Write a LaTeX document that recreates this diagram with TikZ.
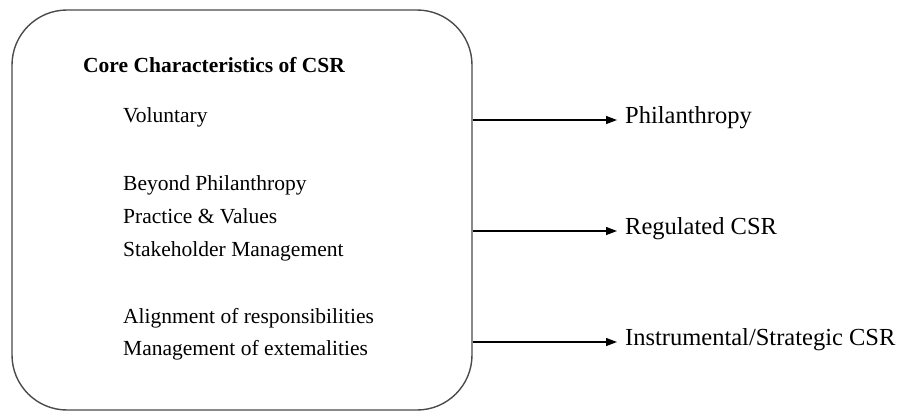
\documentclass[tikz,border=0pt]{standalone}
\usepackage{fontspec}
\setmainfont{Liberation Serif}
\usetikzlibrary{positioning, arrows.meta}
\definecolor{FrameGray}{HTML}{4A4A4A}

\begin{document}
\begin{tikzpicture}[x=1pt, y=-1pt,
    item/.style={anchor=base west, inner sep=0pt, font=\fontsize{21.5}{24}\selectfont},
    outcome/.style={anchor=west, inner sep=0pt, text height=0.72em, text depth=0.05em,
                    font=\fontsize{24.5}{28}\selectfont},
    link/.style={-{Triangle[length=11pt, width=8pt]}, line width=1.3pt, black, shorten >=8pt}]
    \useasboundingbox (0, 0) rectangle (903, 413);

    % Frame
    \node[draw=FrameGray, line width=1.4pt, rounded corners=55pt,
          minimum width=460pt, minimum height=400pt] (core) at (242, 210) {};

    % Characteristics
    \node[item, font=\fontsize{21.5}{24}\selectfont\bfseries] (title) at (83, 72) {Core Characteristics of CSR};
    \node[item] (vol) at (123, 122) {Voluntary};
    \node[item] (beyond) at (123, 190) {Beyond Philanthropy};
    \node[item] (values) at (123, 223) {Practice \& Values};
    \node[item] (stake) at (123, 256) {Stakeholder Management};
    \node[item] (align) at (123, 323) {Alignment of responsibilities};
    \node[item] (extern) at (123, 355) {Management of extemalities};

    % Outcomes
    \node[outcome] (phil) at (625, 120) {Philanthropy};
    \node[outcome] (reg) at (625, 231) {Regulated CSR};
    \node[outcome] (instr) at (625, 342) {Instrumental/Strategic CSR};

    % Arrows
    \foreach \o in {phil, reg, instr} {
        \draw[link] (core.east |- \o) -- (\o.west);
    }
\end{tikzpicture}
\end{document}
